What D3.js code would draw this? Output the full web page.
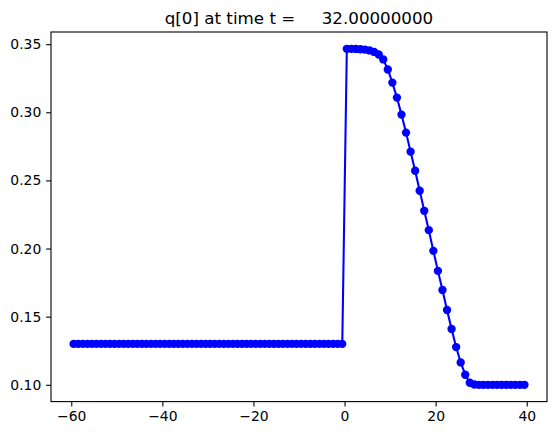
<!DOCTYPE html>
<html><head><meta charset="utf-8">
<script src="https://cdn.jsdelivr.net/npm/d3@7"></script>
<style>
body{margin:0;background:#fff;}
text{font-family:"DejaVu Sans",sans-serif;}
</style></head>
<body><svg id="c" width="556" height="435"></svg>
<script>
const titleText = "q[0] at time t =     32.00000000";
// cell centers
const xLeft = d3.range(-59.5, 0, 1);           // 60 points
const yLeft = xLeft.map(() => 0.13);
const xRight = d3.range(0.5, 40, 1);           // 40 points
const yRight = [0.3466,0.3466,0.3465,0.3463,0.3460,0.3454,0.3443,0.3424,0.3388,0.3314,
  0.3218,0.3108,0.2983,0.2851,0.2711,0.2571,0.2424,0.2277,0.2135,0.1983,
  0.1836,0.1696,0.1549,0.1410,0.1277,0.1164,0.1074,0.1015,0.1002,0.1000,
  0.1000,0.1000,0.1000,0.1000,0.1000,0.1000,0.1000,0.1000,0.1000,0.1000];
const xTicks = [-60,-40,-20,0,20,40];
const yTicks = [0.10,0.15,0.20,0.25,0.30,0.35];

const xs = xLeft.concat(xRight), ys = yLeft.concat(yRight);
const data = xs.map((x,i)=>({x, y: ys[i]}));

const L = 51, T = 32, W = 496, H = 369.6;
const svg = d3.select("#c");
const xmin = d3.min(xs), xmax = d3.max(xs), ymin = d3.min(ys), ymax = d3.max(ys);
const mx = (xmax-xmin)*0.05, my = (ymax-ymin)*0.05;
const x = d3.scaleLinear().domain([xmin-mx, xmax+mx]).range([L, L+W]);
const y = d3.scaleLinear().domain([ymin-my, ymax+my]).range([T+H, T]);

const g = svg.append("g");
const line = d3.line().x(d=>x(d.x)).y(d=>y(d.y));
g.append("path").datum(data).attr("d", line).attr("fill","none")
  .attr("stroke","#0000ff").attr("stroke-width",2.08).attr("stroke-linejoin","round");
g.selectAll("circle").data(data).join("circle")
  .attr("cx", d=>x(d.x)).attr("cy", d=>y(d.y)).attr("r", 4.17).attr("fill","#0000ff");

const fmtX = d => (d<0 ? "\u2212" + Math.abs(d) : String(d));
const xa = svg.append("g").attr("transform",`translate(0,${T+H})`)
  .call(d3.axisBottom(x).tickValues(xTicks).tickFormat(fmtX).tickSize(4.86).tickPadding(4.86));
const ya = svg.append("g").attr("transform",`translate(${L},0)`)
  .call(d3.axisLeft(y).tickValues(yTicks).tickFormat(d3.format(".2f")).tickSize(4.86).tickPadding(4.86));
[xa,ya].forEach(a=>{
  a.select(".domain").remove();
  a.selectAll("line").attr("stroke","#000").attr("stroke-width",1.1);
  a.selectAll("text").attr("font-size","13.9px").attr("fill","#000").attr("font-family","DejaVu Sans");
});
svg.append("rect").attr("x",L).attr("y",T).attr("width",W).attr("height",H)
  .attr("fill","none").attr("stroke","#000").attr("stroke-width",1.1);
svg.append("text").attr("x", L+W/2).attr("y", T-8.5).attr("text-anchor","middle")
  .attr("font-size","16.7px").attr("fill","#000").style("white-space","pre").text(titleText);
</script></body></html>
